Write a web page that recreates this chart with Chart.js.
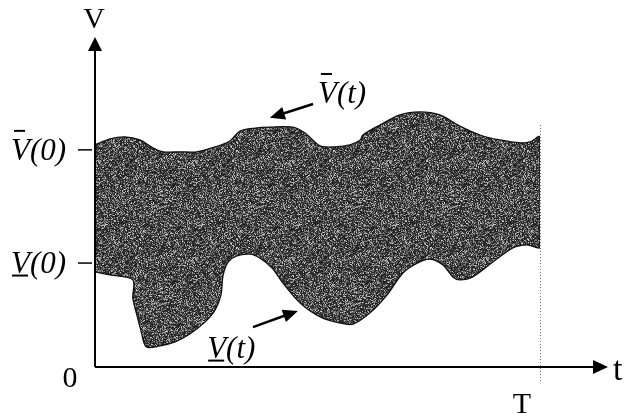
<!DOCTYPE html>
<html>
<head>
<meta charset="utf-8">
<script src="https://cdn.jsdelivr.net/npm/chart.js@4.4.0/dist/chart.umd.min.js"></script>
<style>
  html, body { margin: 0; padding: 0; background: #fff; }
  #wrap { width: 639px; height: 416px; }
</style>
</head>
<body>
<div id="wrap"><canvas id="chart" width="639" height="416"></canvas></div>
<script>
// Bornes V̄(t) et V̲(t) (t en % de T, V en unités arbitraires)
const upperT = [0, 3.4, 6.7, 10.1, 13.0, 15.3, 19.1, 22.9, 27.0, 30.3, 32.6, 36.0, 39.3, 44.5, 47.2,
  50.6, 53.9, 57.3, 59.6, 60.2, 64.0, 68.5, 73.0, 77.5, 82.0, 86.5, 91.0, 95.5, 97.8, 100];
const upperV = [67.3, 69.1, 69.7, 68.8, 66.4, 65.2, 65.2, 65.2, 66.7, 68.5, 71.5, 72.4, 72.7, 72.7, 70.9,
  67.0, 66.7, 67.3, 68.8, 70.3, 73.3, 76.4, 77.3, 76.4, 73.0, 70.3, 68.8, 67.9, 68.2, 69.7];

// la borne basse revient en arrière par endroits : ordre du tracé conservé
const lowerT = [0, 3.4, 8.5, 8.5, 9.4, 10.3, 11.5, 14.6, 18.0, 21.3, 24.7, 27.0, 28.3, 28.8, 29.9, 31.7,
  34.8, 37.1, 39.8, 42.2, 46.1, 50.6, 55.1, 58.0, 61.8, 65.6, 69.2, 72.4, 75.3, 78.2, 80.4, 82.0,
  84.9, 89.4, 93.9, 97.1, 100];
const lowerV = [28.8, 27.9, 26.4, 20.9, 15.8, 11.2, 6.1, 6.4, 7.6, 10.0, 13.6, 17.3, 21.8, 27.9, 31.8, 33.6,
  34.2, 33.0, 30.0, 25.5, 19.4, 15.2, 13.3, 13.0, 16.4, 21.8, 28.5, 31.5, 32.7, 30.9, 27.3, 26.4,
  27.3, 31.8, 36.1, 37.0, 36.4];

const T_END = 100;
const yTicks = [65.8, 31.5];
const yTickLabels = ["V(0)", "V(0)"];
const yTickMarks = ["over", "under"];   // barre au-dessus / en dessous du V

// polygone : borne haute de gauche à droite, puis borne basse en retour
const shape = upperT.map((t, i) => ({x: t, y: upperV[i]}))
  .concat(lowerT.map((t, i) => ({x: t, y: lowerV[i]})).reverse());

// texture grise mouchetée (type photocopie)
function speckle() {
  const c = document.createElement("canvas");
  c.width = 97; c.height = 97;
  const g = c.getContext("2d");
  const img = g.createImageData(97, 97);
  let s = 12345;
  const rnd = () => { s = (s * 1103515245 + 12345) & 0x7fffffff; return s / 0x7fffffff; };
  for (let i = 0; i < 97 * 97; i++) {
    const r = rnd();
    let v;
    if (r < 0.55) v = 25 + rnd() * 35;
    else if (r < 0.88) v = 85 + rnd() * 55;
    else v = 160 + rnd() * 50;
    img.data[i * 4] = img.data[i * 4 + 1] = img.data[i * 4 + 2] = v;
    img.data[i * 4 + 3] = 255;
  }
  g.putImageData(img, 0, 0);
  return g.createPattern(c, "repeat");
}

function arrowHead(ctx, x0, y0, x1, y1, len, half) {
  const a = Math.atan2(y1 - y0, x1 - x0);
  ctx.beginPath();
  ctx.moveTo(x1, y1);
  ctx.lineTo(x1 - len * Math.cos(a) + half * Math.sin(a), y1 - len * Math.sin(a) - half * Math.cos(a));
  ctx.lineTo(x1 - len * Math.cos(a) - half * Math.sin(a), y1 - len * Math.sin(a) + half * Math.cos(a));
  ctx.closePath();
  ctx.fill();
}

function markedLabel(ctx, txt, mark, x, base) {
  ctx.textAlign = "left";
  ctx.fillText(txt, x, base);
  ctx.lineWidth = 2;
  ctx.beginPath();
  if (mark === "over") {
    ctx.moveTo(x + 3, base - 29); ctx.lineTo(x + 14, base - 29);
  } else {
    ctx.moveTo(x + 1, base + 2.5); ctx.lineTo(x + 17, base + 2.5);
  }
  ctx.stroke();
}

const axesPlugin = {
  id: "axesPlugin",
  afterDraw: chart => {
    const ctx = chart.ctx;
    const xs = chart.scales.x, ys = chart.scales.y;
    const x0 = xs.left, y0 = ys.bottom;
    ctx.save();
    ctx.fillStyle = "#000";
    ctx.strokeStyle = "#000";

    // ligne pointillée en T
    const xT = xs.getPixelForValue(T_END);
    ctx.save();
    ctx.strokeStyle = "#666";
    ctx.lineWidth = 1;
    ctx.setLineDash([1, 2]);
    ctx.beginPath();
    ctx.moveTo(xT + 0.5, ys.getPixelForValue(73.3));
    ctx.lineTo(xT + 0.5, y0 + 16);
    ctx.stroke();
    ctx.restore();

    // axes avec flèches
    ctx.lineWidth = 2;
    ctx.beginPath();
    ctx.moveTo(x0, y0);
    ctx.lineTo(x0, ys.top + 12);
    ctx.moveTo(x0, y0);
    ctx.lineTo(x0 + 500, y0);
    ctx.stroke();
    arrowHead(ctx, x0, y0, x0, ys.top, 14, 7);
    arrowHead(ctx, x0, y0, x0 + 513, y0, 15, 7);

    // graduations V̄(0), V̲(0)
    ctx.font = 'italic 31px "Liberation Serif"';
    ctx.textBaseline = "alphabetic";
    yTicks.forEach((v, i) => {
      const y = ys.getPixelForValue(v);
      ctx.lineWidth = 1.5;
      ctx.beginPath();
      ctx.moveTo(x0 - 17, y);
      ctx.lineTo(x0 - 3, y);
      ctx.stroke();
      markedLabel(ctx, yTickLabels[i], yTickMarks[i], 11, y + 10);
    });

    // annotations des bornes
    const ann = [
      {txt: "V(t)", mark: "over", t: 50.1, v: 80.0, from: [49.0, 79.7], to: [39.3, 75.5]},
      {txt: "V(t)", mark: "under", t: 25.2, v: 2.7, from: [35.5, 12.1], to: [45.6, 17.0]}
    ];
    ann.forEach(a => {
      const fx = xs.getPixelForValue(a.from[0]), fy = ys.getPixelForValue(a.from[1]);
      const tx = xs.getPixelForValue(a.to[0]), ty = ys.getPixelForValue(a.to[1]);
      const ang = Math.atan2(ty - fy, tx - fx);
      ctx.lineWidth = 2.5;
      ctx.beginPath();
      ctx.moveTo(fx, fy);
      ctx.lineTo(tx - 10 * Math.cos(ang), ty - 10 * Math.sin(ang));
      ctx.stroke();
      arrowHead(ctx, fx, fy, tx, ty, 15, 6.5);
      markedLabel(ctx, a.txt, a.mark, xs.getPixelForValue(a.t), ys.getPixelForValue(a.v));
    });

    // noms des axes
    ctx.font = '30px "Liberation Serif"';
    ctx.textAlign = "center";
    ctx.fillText("V", x0 - 1, 28);
    ctx.fillText("0", x0 - 25, y0 + 20);
    ctx.fillText("T", xT - 18, y0 + 46);
    ctx.font = '34px "Liberation Serif"';
    ctx.textAlign = "left";
    ctx.fillText("t", x0 + 518, y0 + 13);
    ctx.restore();
  }
};

const ctx = document.getElementById("chart").getContext("2d");
new Chart(ctx, {
  type: "scatter",
  data: {
    datasets: [{
      data: shape,
      showLine: true,
      fill: "shape",
      backgroundColor: speckle(),
      borderColor: "#111",
      borderWidth: 1.3,
      pointRadius: 0,
      tension: 0.3
    }]
  },
  options: {
    responsive: false,
    animation: false,
    layout: { padding: { left: 95, right: 99, top: 37, bottom: 49 } },
    scales: {
      x: { type: "linear", min: 0, max: T_END, display: false },
      y: { min: 0, max: 100, display: false }
    },
    plugins: { legend: { display: false }, tooltip: { enabled: false } }
  },
  plugins: [axesPlugin]
});
</script>
</body>
</html>
